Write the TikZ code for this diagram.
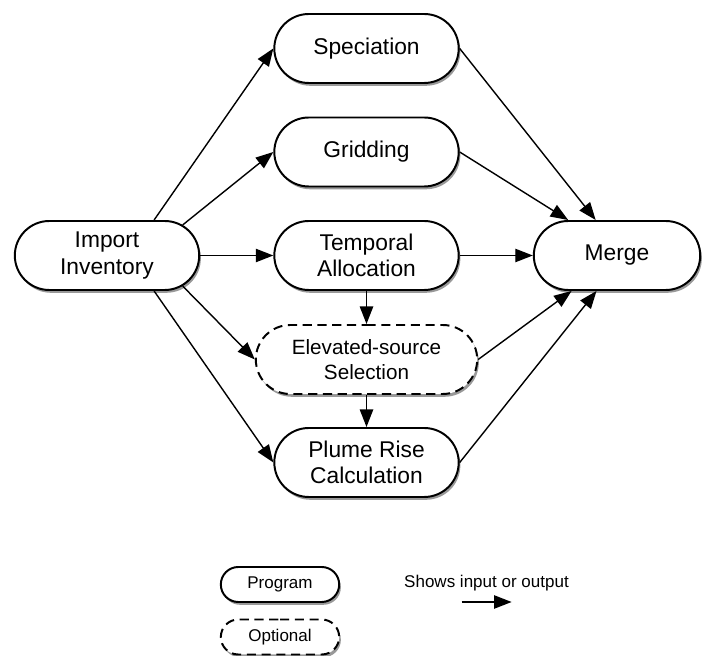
\documentclass[tikz,border=0pt]{standalone}
\usepackage{fontspec}
\setmainfont{Liberation Sans}
\usepackage{tikz}
\usetikzlibrary{shapes,arrows.meta,shadows}
\tikzstyle{block} = [rounded rectangle, draw, line width=1.4pt, fill=white, align=center,
  minimum width=4.75cm, minimum height=1.725cm, inner sep=2pt,
  font=\fontsize{16.2}{19}\selectfont,
  drop shadow={shadow xshift=1.2pt, shadow yshift=-2pt, opacity=0.4, fill=black}]
\tikzstyle{optblock} = [block, dash pattern=on 6.5pt off 4pt]
\tikzstyle{legendbox} = [minimum width=3.1cm, minimum height=0.875cm, font=\fontsize{12.1}{14}\selectfont]
\tikzstyle{arrow} = [line width=1pt,->,>={Triangle[length=12.5pt,width=9.5pt]}]

\begin{document}
\begin{tikzpicture}
    \useasboundingbox (0,0) rectangle (17.75,16.4);
    \def \midx {9.1625}
    % program boxes
    \node[block] (import) at (2.675,10.0125) {Import\\Inventory};
    \node[block] (speciation) at (\midx,15.1875) {Speciation};
    \node[block] (gridding) at (\midx,12.6) {Gridding};
    \node[block] (temporal) at (\midx,10.0125) {Temporal\\Allocation};
    \node[optblock, minimum width=5.675cm, font=\fontsize{14.7}{17.8}\selectfont] (elevated) at (\midx,7.4125) {Elevated-source\\Selection};
    \node[block] (plume) at (\midx,4.8375) {Plume Rise\\Calculation};
    \node[block, minimum width=4.3cm] (merge) at (15.425,10.0125) {Merge};
    % inputs and outputs
    \draw[arrow] (import.37) -- (speciation.west);
    \draw[arrow] (import.22) -- (gridding.west);
    \draw[arrow] (import.east) -- (temporal.west);
    \draw[arrow] (import.-22) -- (elevated.west);
    \draw[arrow] (import.-37) -- (plume.west);
    \draw[arrow] (temporal.south) -- (elevated.north);
    \draw[arrow] (elevated.south) -- (plume.north);
    \draw[arrow] (speciation.east) -- (merge.121);
    \draw[arrow] (gridding.east) -- (merge.144);
    \draw[arrow] (temporal.east) -- (merge.west);
    \draw[arrow] (elevated.east) -- (merge.218);
    \draw[arrow] (plume.east) -- (merge.240);
    % legend
    \node[block, legendbox] (program) at (7.0,1.7875) {Program};
    \node[optblock, legendbox] (optional) at (7.0,0.475) {Optional};
    \node[font=\fontsize{12.1}{14}\selectfont] (shows) at (12.1625,1.825) {Shows input or output};
    \coordinate (legfrom) at (11.54,1.35);
    \coordinate (legto) at (12.79,1.35);
    \draw[arrow] (legfrom) -- (legto);
\end{tikzpicture}
\end{document}
